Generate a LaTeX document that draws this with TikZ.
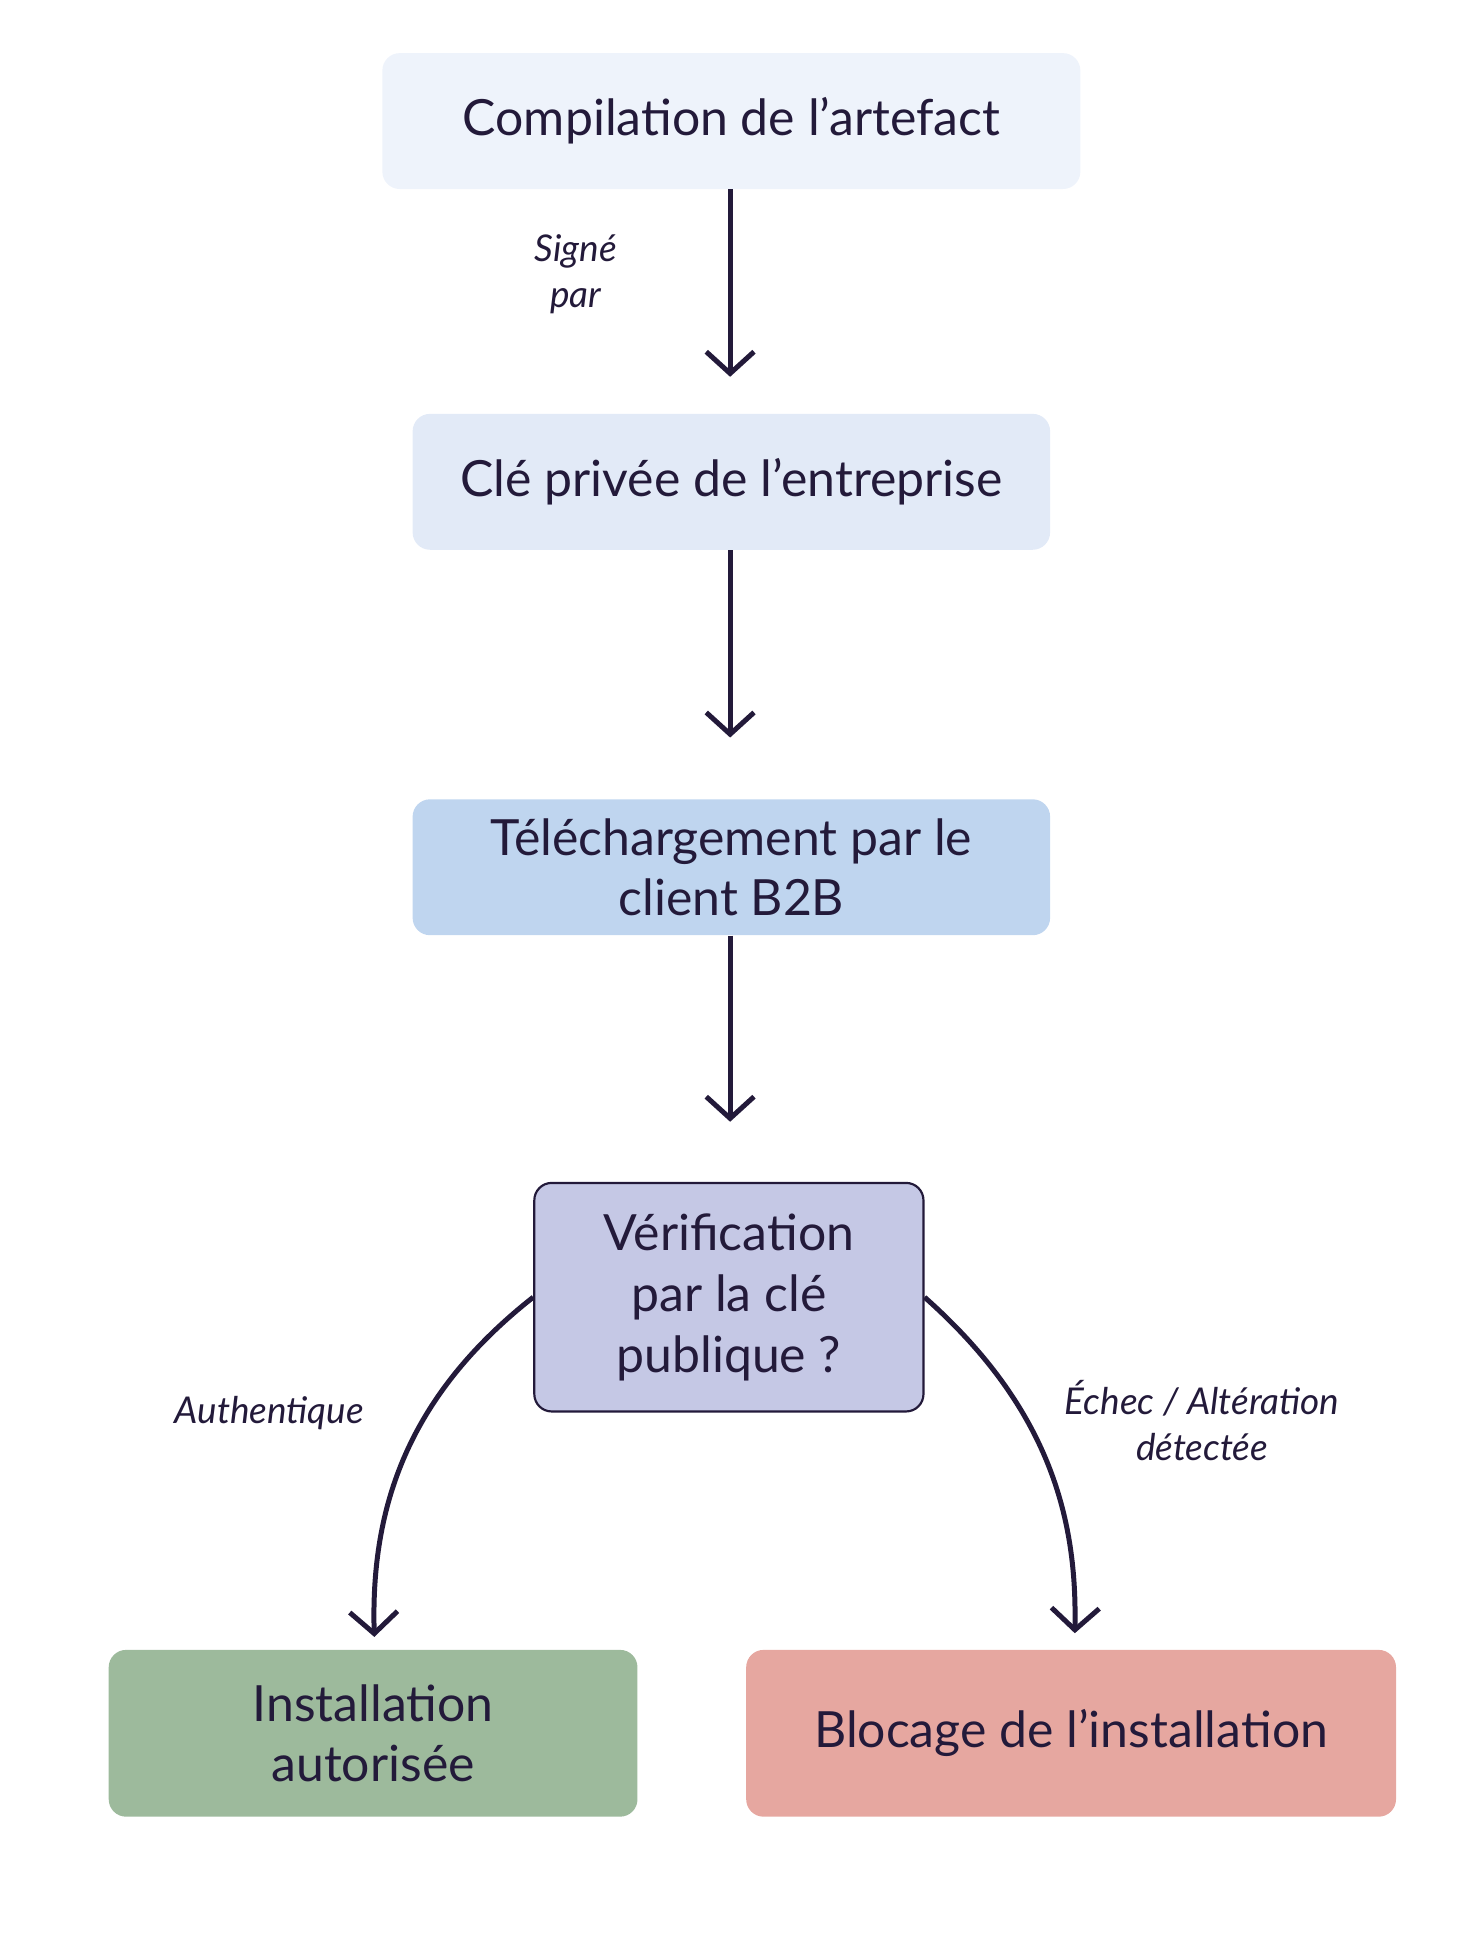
\documentclass[tikz,border=0pt]{standalone}
\usepackage{fontspec}
\setmainfont{Lato}
\usetikzlibrary{arrows.meta}
\definecolor{ink}{HTML}{231A3A}
\definecolor{c1}{HTML}{EEF3FB}
\definecolor{c2}{HTML}{E2EAF7}
\definecolor{c3}{HTML}{BFD5EF}
\definecolor{c4}{HTML}{C5C8E5}
\definecolor{c5}{HTML}{9DBA9C}
\definecolor{c6}{HTML}{E6A7A0}
\begin{document}
\begin{tikzpicture}[x=0.02cm,y=-0.02cm,
  box/.style={rounded corners=8pt,inner sep=0pt,text=ink,font=\fontsize{23}{28}\selectfont,align=center},
  arr/.style={draw=ink,line width=2.3pt,-{Straight Barb[length=10pt,width=22pt,line width=2.3pt]}},
  lab/.style={text=ink,font=\fontsize{17}{21}\selectfont\itshape,align=center}]
\useasboundingbox (0,0) rectangle (1200,1576);
\node[box,fill=c1,minimum width=565*0.02cm,minimum height=110*0.02cm] (a) at (592,98) {Compilation de l’artefact};
\node[box,fill=c2,minimum width=516*0.02cm,minimum height=110*0.02cm] (b) at (592,390) {Clé privée de l’entreprise};
\node[box,fill=c3,minimum width=516*0.02cm,minimum height=110*0.02cm] (c) at (592,702) {Téléchargement par le\\client B2B};
\node[box,fill=c4,draw=ink,line width=1pt,minimum width=315*0.02cm,minimum height=185*0.02cm] (d) at (590,1050) {Vérification\\par la clé\\publique ?};
\node[box,fill=c5,minimum width=428*0.02cm,minimum height=135*0.02cm] (e) at (302,1403) {Installation\\autorisée};
\node[box,fill=c6,minimum width=526*0.02cm,minimum height=135*0.02cm] (f) at (867,1403) {Blocage de l’installation};
\coordinate (e1) at (303,1325);
\coordinate (f1) at (870,1322);
\coordinate (b0) at (591,305);
\coordinate (c0) at (591,597);
\coordinate (d0) at (591,908);
\draw[arr] (a.south -| b0) -- (b0);
\draw[arr] (b.south -| c0) -- (c0);
\draw[arr] (c.south -| d0) -- (d0);
\draw[arr] (d.west) .. controls (330,1130) and (300,1220) .. (e1);
\draw[arr] (d.east) .. controls (850,1140) and (872,1230) .. (f1);
\node[lab] (l1) at (466,222) {Signé\\par};
\node[lab] (l2) at (218,1144) {Authentique};
\node[lab] (l3) at (973,1150) {Échec / Altération\\détectée};
\end{tikzpicture}
\end{document}
